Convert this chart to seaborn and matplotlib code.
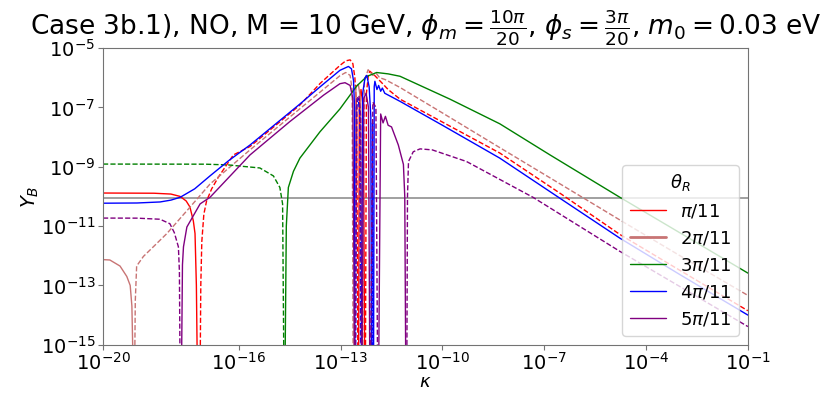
import matplotlib
matplotlib.use("Agg")
import matplotlib.pyplot as plt
from matplotlib.lines import Line2D
from matplotlib.ticker import FixedLocator, NullLocator
import numpy as np
import pandas as pd
import seaborn as sns

# theta_R values (legend) and colours
thetas = [r"$\pi/11$", r"$2\pi/11$", r"$3\pi/11$", r"$4\pi/11$", r"$5\pi/11$"]
colors = ["red", "#c87474", "green", "blue", "purple"]

# log10(kappa) and signed Y_B (solid = Y_B > 0, dashed = Y_B < 0)
logk_1 = [-20, -18.5, -18.0, -17.73, -17.55, -17.44, -17.34, -17.29, -17.25, -17.22,
          -17.14, -17.12, -17.09, -17.03, -16.95, -16.8, -16.6, -16.16, -15.67, -14.8,
          -14.2, -13.6, -13.02, -12.85, -12.72, -12.64, -12.58, -12.53, -12.49,
          -12.47, -12.45, -12.40, -12.33, -12.29,
          -12.27, -12.24, -12.18, -12.14, -12.0, -11.8, -11.6, -11.25, -10.0, -8.31,
          -6.5, -4.77, -3.0, -1.0]
yb_1 = [1.3e-10, 1.28e-10, 1.2e-10, 1.0e-10, 7e-11, 4.4e-11, 1.5e-11, 5.6e-12, 1e-13, 1e-16,
        -1e-16, -1e-13, -3e-12, -2.5e-11, -7e-11, -1.8e-10, -4.5e-10, -2.5e-9, -4.8e-9, -3.2e-8,
        -1.2e-7, -6.5e-7, -2.6e-6, -3.7e-6, -4.0e-6, -3e-6, -1e-6, -1e-7, -1e-16,
        1e-16, 1e-7, 4e-7, 1e-7, 1e-16,
        -1e-16, -3e-7, -1.3e-6, -1.66e-6, -1.2e-6, -7e-7, -4e-7, -1.9e-7, -3.2e-8, -2.9e-9,
        -1.2e-10, -5.2e-12, -3.2e-13, -1.4e-14]

logk_2 = [-20, -19.8, -19.5, -19.3, -19.2, -19.15, -19.11,
          -19.07, -19.05, -19.01, -18.81, -18.5, -18.12, -17.5, -16.85, -15.67, -14.5,
          -13.02, -12.85, -12.72, -12.66, -12.63,
          -12.61, -12.55, -12.48, -12.41, -12.37,
          -12.35, -12.30, -12.19, -12.05, -11.95, -11.85, -11.69, -11.25, -10.0, -8.31,
          -6.5, -4.77, -3.0, -1.0]
yb_2 = [7.4e-13, 7.2e-13, 4.5e-13, 2e-13, 1e-13, 2e-14, 1e-16,
        -1e-16, -3e-14, -4.5e-13, -9.5e-13, -2.1e-12, -5.6e-12, -3.6e-11, -2.6e-10, -3.7e-9, -4.7e-8,
        -1.17e-6, -1.5e-6, -1.2e-6, -4e-7, -1e-16,
        1e-16, 5e-7, 6e-7, 2e-7, 1e-16,
        -1e-16, -8e-7, -1.86e-6, -1.2e-6, -1.4e-6, -1.0e-6, -8.7e-7, -4.7e-7, -6.5e-8, -4.4e-9,
        -2.5e-10, -1.6e-11, -1e-12, -4.6e-14]

logk_3 = [-20, -17.0, -16.3, -15.96, -15.38, -14.98, -14.79, -14.71, -14.67,
          -14.64, -14.60, -14.54, -14.39, -14.2, -13.61, -13.02, -12.53, -12.23, -11.94,
          -11.6, -11.25, -9.78, -8.31, -6.83, -4.77, -3.0, -1.0]
yb_3 = [-1.23e-9, -1.22e-9, -1.15e-9, -1.05e-9, -9.1e-10, -4.9e-10, -2e-10, -5.6e-11, -1e-16,
        1e-16, 1e-11, 2e-10, 7e-10, 1.95e-9, 1.5e-8, 8.9e-8, 5.2e-7, 1.1e-6, 1.5e-6,
        1.35e-6, 1.12e-6, 1.9e-7, 2.8e-8, 2.5e-9, 9.3e-11, 5.9e-12, 2.6e-13]

logk_4 = [-20, -19.0, -18.32, -18.0, -17.73, -17.3, -16.85, -16.3, -15.67, -15.0, -14.2,
          -13.6, -13.02, -12.77, -12.68, -12.62, -12.59, -12.58,
          -12.56, -12.53, -12.48, -12.43, -12.41,
          -12.39, -12.35, -12.28, -12.23, -12.16, -12.11, -12.09,
          -12.08, -12.06, -12.04,
          -12.03, -12.01, -11.99, -11.93, -11.88, -11.82, -11.77, -11.7, -11.25, -10.0,
          -8.31, -6.5, -4.77, -3.0, -1.0]
yb_4 = [5.9e-11, 6.0e-11, 6.5e-11, 7.5e-11, 9.3e-11, 1.8e-10, 4.9e-10, 1.6e-9, 5.4e-9, 2.3e-8, 1.3e-7,
        5e-7, 1.78e-6, 2.4e-6, 2e-6, 8e-7, 1e-7, 1e-16,
        -1e-16, -1e-7, -2e-7, -5e-8, -1e-16,
        1e-16, 3e-7, 1e-6, 1.2e-6, 5e-7, 5e-8, 1e-16,
        -1e-16, -3e-8, -1e-16,
        1e-16, 5e-7, 7.6e-7, 4e-7, 5.5e-7, 3.5e-7, 4.5e-7, 3e-7, 1.6e-7, 2.5e-8,
        1.95e-9, 8.1e-11, 3.9e-12, 2.3e-13, 1e-14]

logk_5 = [-20, -19.0, -18.32, -18.03, -17.9, -17.78, -17.75, -17.73,
          -17.69, -17.66, -17.63, -17.53, -17.14, -16.85, -15.67, -14.5, -13.5, -13.02,
          -12.87, -12.72, -12.64, -12.59,
          -12.57, -12.52, -12.46, -12.41, -12.39,
          -12.37, -12.32, -12.25, -12.18, -12.14,
          -12.12, -12.05, -11.96, -11.91,
          -11.88, -11.82, -11.75, -11.68, -11.6, -11.5, -11.3, -11.15, -11.11, -11.08,
          -11.05, -11.03, -11.0, -10.86, -10.66, -10.3, -9.29, -7.33, -4.77, -3.0, -1.0]
yb_5 = [-1.86e-11, -1.85e-11, -1.7e-11, -1.2e-11, -6e-12, -2e-12, -3e-13, -1e-16,
        1e-16, 5e-13, 2e-12, 9.3e-12, 5.6e-11, 9.3e-11, 2.5e-9, 3.3e-8, 2.6e-7, 6.3e-7,
        6.8e-7, 5.5e-7, 2e-7, 1e-16,
        -1e-16, -2e-7, -2.5e-7, -5e-8, -1e-16,
        1e-16, 2e-7, 3e-7, 1e-7, 1e-16,
        -1e-16, -1.5e-7, -1e-7, -1e-16,
        1e-16, 6e-8, 3e-8, 5e-8, 2.5e-8, 2.2e-8, 5.4e-9, 1.2e-9, 1e-10, 1e-16,
        -1e-16, -1e-10, -1.5e-9, -3.2e-9, -4e-9, -3.7e-9, -1.5e-9, -9.3e-11, -1.4e-12, -9.1e-14, -4.1e-15]

y_obs = 8.7e-11

curves = [(logk_1, yb_1), (logk_2, yb_2), (logk_3, yb_3), (logk_4, yb_4), (logk_5, yb_5)]

# long table, one "run" per stretch of constant sign
rows = []
run = 0
for name, (lk, yb) in zip(thetas, curves):
    prev = None
    for k, y in zip(lk, yb):
        sign = "pos" if y > 0 else "neg"
        if sign != prev:
            run += 1
            prev = sign
        rows.append({"kappa": 10.0 ** k, "absY": abs(y), "theta": name, "sign": sign, "run": run})
df = pd.DataFrame(rows)

sns.set_style("ticks")
plt.rcParams["axes.edgecolor"] = "0.45"
plt.rcParams["axes.linewidth"] = 0.8
plt.rcParams["text.color"] = "black"
plt.rcParams["axes.labelcolor"] = "black"
plt.rcParams["xtick.labelcolor"] = "black"
plt.rcParams["ytick.labelcolor"] = "black"

fig, ax = plt.subplots(figsize=(8.31, 3.94), dpi=100)
fig.subplots_adjust(left=0.124, right=0.900, top=0.878, bottom=0.125)
ax.set_xscale("log")
ax.set_yscale("log")

sns.lineplot(
    data=df, x="kappa", y="absY", hue="theta", style="sign", units="run",
    estimator=None, sort=False, palette=dict(zip(thetas, colors)),
    dashes={"pos": "", "neg": (3.7, 1.6)}, lw=1.0, legend=False, ax=ax,
)

ax.axhline(y_obs, color="0.6", lw=1.3, zorder=1)

ax.set_xlim(1e-20, 1e-1)
ax.set_ylim(1e-15, 1e-5)
ax.xaxis.set_major_locator(FixedLocator([1e-20, 1e-16, 1e-13, 1e-10, 1e-7, 1e-4, 1e-1]))
ax.yaxis.set_major_locator(FixedLocator([1e-15, 1e-13, 1e-11, 1e-9, 1e-7, 1e-5]))
ax.xaxis.set_minor_locator(NullLocator())
ax.yaxis.set_minor_locator(NullLocator())
ax.tick_params(axis="x", labelsize=14, length=3.5, width=0.8, color="0.45", pad=2)
ax.tick_params(axis="y", labelsize=14, length=3.5, width=0.8, color="0.45", pad=2)

ax.set_xlabel(r"$\kappa$", fontsize=13, labelpad=-1)
ax.set_ylabel(r"$Y_B$", fontsize=14, labelpad=0)
ax.set_title(r"Case 3b.1), NO, M = 10 GeV, $\phi_m=\frac{10\pi}{20}$, $\phi_s=\frac{3\pi}{20}$, $m_0=0.03$ eV",
             fontsize=19, pad=9)

handles = [Line2D([], [], color=c, lw=2.0 if i == 1 else 1.0) for i, c in enumerate(colors)]
ax.legend(handles, thetas, title=r"$\theta_R$", loc="lower right", fontsize=13, title_fontsize=13)

fig.savefig("out.png", dpi=100)
